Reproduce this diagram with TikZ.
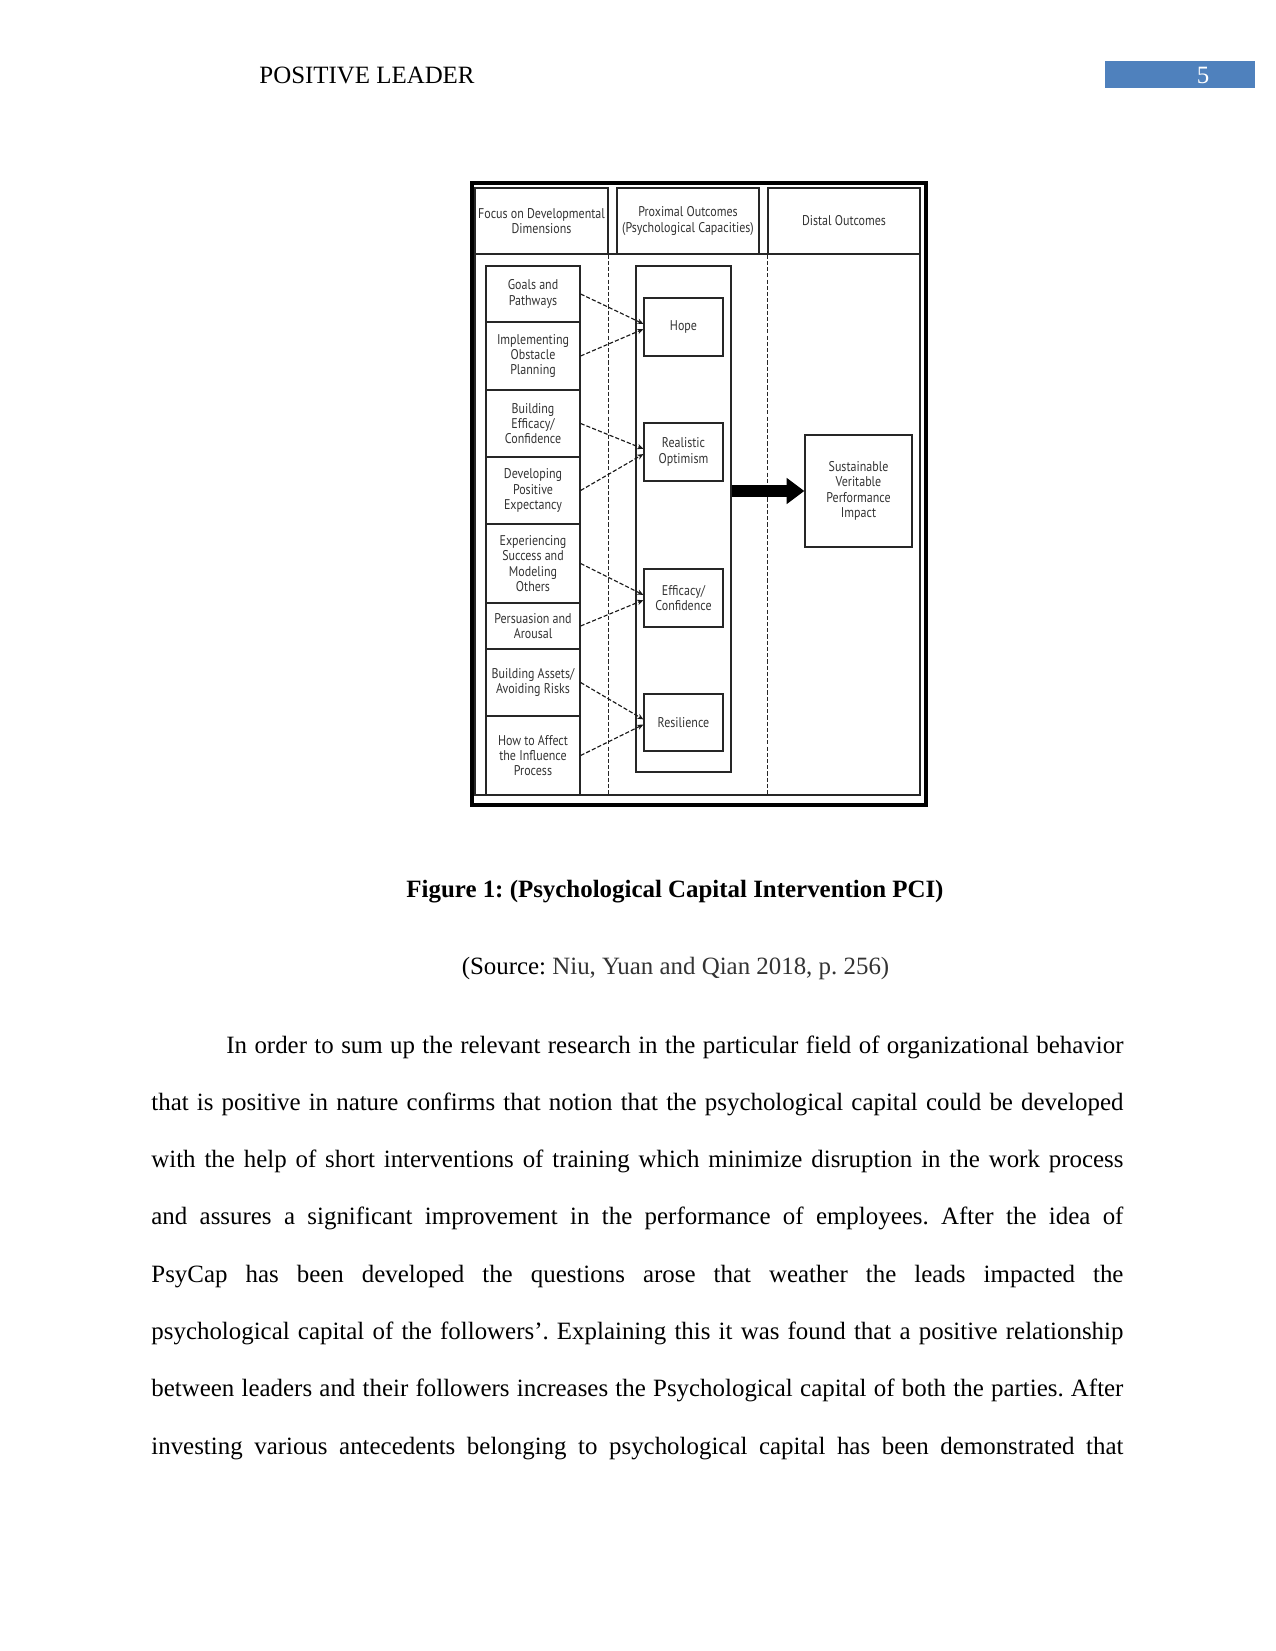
\documentclass[tikz,border=0pt]{standalone}
\usepackage{fontspec}
\setmainfont{Liberation Serif}
\newfontfamily\diagfont[FakeStretch=0.85]{PT Sans}
\usetikzlibrary{positioning,arrows.meta}
\definecolor{pageblue}{RGB}{79,129,189}
\newdimen\pxu \pxu=0.4818pt
\frenchspacing

\begin{document}
\begin{tikzpicture}[x=\pxu,y=-\pxu,font=\fontsize{12pt}{14pt}\selectfont,
 frame/.style={draw=black!85,line width=.6pt},
 dfont/.style={font=\diagfont\fontsize{6.8pt}{7.4pt}\selectfont,text=black!80,align=center},
 hbox/.style={frame,dfont,inner sep=0pt,minimum height=66*\pxu,minimum width=#1*\pxu},
 lbox/.style={frame,dfont,inner sep=0pt,minimum width=94*\pxu,minimum height=#1*\pxu},
 cbox/.style={frame,dfont,inner sep=0pt,minimum width=79*\pxu,minimum height=58*\pxu},
 dasharrow/.style={black!90,line width=.55pt,dash pattern=on 2pt off 1pt,-{Stealth[length=3pt,width=2.6pt]}},
 sepline/.style={black!85,line width=.5pt,dash pattern=on 2pt off 1pt},
 fatarrow/.style={black,line width=5.8pt,-{Triangle[length=8.5pt,width=12pt]}},
 paraline/.style={anchor=base west,inner sep=0pt}]
\useasboundingbox (0,0) rectangle (1275,1651);
% running head
\node[anchor=base west,inner sep=0pt] (runhead) at (259,83.5) {POSITIVE LEADER};
\node[fill=pageblue,minimum width=150*\pxu,minimum height=27*\pxu,inner sep=0pt] (pagebox) at (1180,74.5) {};
\node[anchor=base,text=white,inner sep=0pt] (pageno) at (1203,83.5) {5};
% figure frame
\draw[black,line width=1.6pt] (472,183) rectangle (926,805);
\draw[frame] (475,188) -- (475,795) -- (920,795) -- (920,188);
\draw[frame] (475,254) -- (920,254);
\node[hbox=133] (col1) at (541.5,221) {Focus on Developmental\\Dimensions};
\node[hbox=142] (col2) at (688,221) {Proximal Outcomes\\(Psychological Capacities)};
\node[hbox=152] (col3) at (844,221) {Distal Outcomes};
% developmental dimensions
\node[lbox=56] (goals) at (533,294) {Goals and\\Pathways};
\node[lbox=68] (obstacle) at (533,356) {Implementing\\Obstacle\\Planning};
\node[lbox=67] (efficacy) at (533,423.5) {Building\\Efficacy/\\Confidence};
\node[lbox=67] (expectancy) at (533,490.5) {Developing\\Positive\\Expectancy};
\node[lbox=79] (success) at (533,563.5) {Experiencing\\Success and\\Modeling\\Others};
\node[lbox=46] (persuasion) at (533,626) {Persuasion and\\Arousal};
\node[lbox=67] (assets) at (533,682.5) {Building Assets/\\Avoiding Risks};
\node[lbox=79] (influence) at (533,755.5) {How to Affect\\the Influence\\Process};
\draw[sepline] (col1.south east) -- (col1.south east |- influence.south);
\draw[sepline] (col3.south west) -- (col3.south west |- influence.south);
% capacities
\node[frame,minimum width=95*\pxu,minimum height=506*\pxu] (capcol) at (683.5,519) {};
\node[cbox] (hope) at (683.5,327) {Hope};
\node[cbox] (optimism) at (683.5,452) {Realistic\\Optimism};
\node[cbox] (confidence) at (683.5,598) {Efficacy/\\Confidence};
\node[cbox,minimum height=57*\pxu] (resilience) at (683.5,722.5) {Resilience};
\node[frame,dfont,inner sep=0pt,minimum width=107*\pxu,minimum height=112*\pxu] (impact) at (858.5,491) {Sustainable\\Veritable\\Performance\\Impact};
\draw[dasharrow] (goals.east) -- ([yshift=1.5pt]hope.west);
\draw[dasharrow] (obstacle.east) -- ([yshift=-1pt]hope.west);
\draw[dasharrow] (efficacy.east) -- ([yshift=1.5pt]optimism.west);
\draw[dasharrow] (expectancy.east) -- ([yshift=-1pt]optimism.west);
\draw[dasharrow] (success.east) -- ([yshift=1.5pt]confidence.west);
\draw[dasharrow] (persuasion.east) -- ([yshift=-1pt]confidence.west);
\draw[dasharrow] (assets.east) -- ([yshift=1.5pt]resilience.west);
\draw[dasharrow] (influence.east) -- ([yshift=-1pt]resilience.west);
\draw[fatarrow] (impact.west -| capcol.east) -- (impact.west);
% caption
\node[anchor=base,font=\fontsize{12pt}{14pt}\selectfont\bfseries,inner sep=0pt] (caption) at (675,897) {Figure 1: (Psychological Capital Intervention PCI)};
\node[anchor=base,inner sep=0pt] (source) at (675.5,974) {(Source: \textcolor{black!80}{Niu, Yuan and Qian 2018, p. 256)}};
% paragraph
\node[paraline] (l1) at (226,1053) {\makebox[897\pxu][s]{In order to sum up the relevant research in the particular field of organizational behavior}};
\node[paraline] (l2) at (151,1110.3) {\makebox[972\pxu][s]{that is positive in nature confirms that notion that the psychological capital could be developed}};
\node[paraline] (l3) at (151,1167.6) {\makebox[972\pxu][s]{with the help of short interventions of training which minimize disruption in the work process}};
\node[paraline] (l4) at (151,1224.9) {\makebox[972\pxu][s]{and assures a significant improvement in the performance of employees. After the idea of}};
\node[paraline] (l5) at (151,1282.2) {\makebox[972\pxu][s]{PsyCap has been developed the questions arose that weather the leads impacted the}};
\node[paraline] (l6) at (151,1339.5) {\makebox[972\pxu][s]{psychological capital of the followers’. Explaining this it was found that a positive relationship}};
\node[paraline] (l7) at (151,1396.8) {\makebox[972\pxu][s]{between leaders and their followers increases the Psychological capital of both the parties. After}};
\node[paraline] (l8) at (151,1454) {\makebox[972\pxu][s]{investing various antecedents belonging to psychological capital has been demonstrated that}};
\end{tikzpicture}
\end{document}
